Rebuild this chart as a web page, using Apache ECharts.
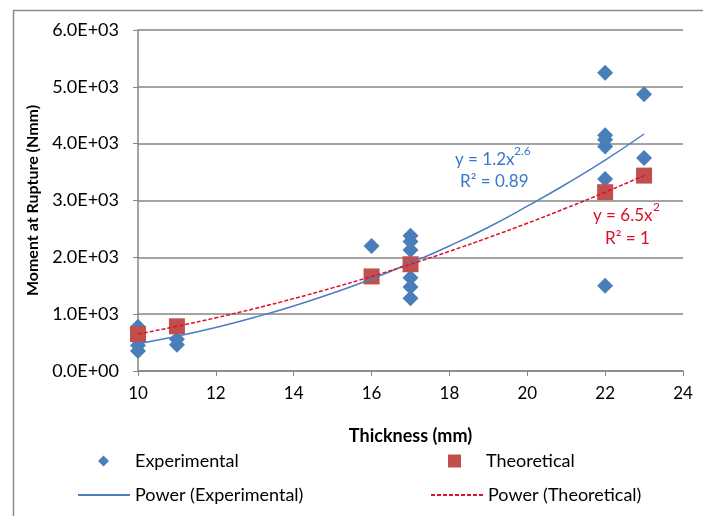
<!DOCTYPE html>
<html>
<head>
<meta charset="utf-8">
<script src="https://cdn.jsdelivr.net/npm/echarts@6/dist/echarts.min.js"></script>
<style>
  html, body { margin: 0; padding: 0; background: #fff; }
  #chart { width: 703px; height: 516px; }
</style>
</head>
<body>
<div id="chart"></div>
<script>
// measured points
const expX = [10, 10, 10, 10, 10, 11, 11, 16, 17, 17, 17, 17, 17, 17, 17, 22, 22, 22, 22, 22, 22, 23, 23]
const expY = [780, 650, 550, 450, 350, 560, 460, 2200, 2380, 2280, 2130, 1880, 1640, 1480, 1280, 5250, 4150, 4070, 3950, 3380, 1500, 4870, 3750]
const theoX = [10, 11, 16, 17, 22, 23]
const theoY = [650, 786, 1664, 1878, 3146, 3438]

// trend lines at whole mm
const fitX = [10, 11, 12, 13, 14, 15, 16, 17, 18, 19, 20, 21, 22, 23]
const fitExpY = [480, 610, 765, 945, 1145, 1370, 1620, 1900, 2200, 2530, 2900, 3290, 3710, 4170]
const fitTheoY = [650, 787, 936, 1099, 1274, 1463, 1664, 1879, 2106, 2347, 2600, 2867, 3146, 3439]

const xTicks = [10, 12, 14, 16, 18, 20, 22, 24]
const yTicks = ['0.0E+00', '1.0E+03', '2.0E+03', '3.0E+03', '4.0E+03', '5.0E+03', '6.0E+03']

const zip = (a, b) => a.map((v, i) => [v, b[i]])

let chart = echarts.init(document.getElementById('chart'))
const font = 'Lato, "Open Sans", sans-serif'
const legendText = { fontFamily: font, fontSize: 18, color: '#000' }
let option = {
  animation: false,
  textStyle: { fontFamily: font },
  grid: { left: 138, right: 20, top: 30, bottom: 145 },
  xAxis: {
    type: 'value',
    min: 10, max: 24, interval: 2,
    name: 'Thickness (mm)',
    nameLocation: 'middle',
    nameGap: 56,
    nameTextStyle: { fontFamily: font, fontWeight: 'bold', fontSize: 18, color: '#000' },
    axisLine: { lineStyle: { color: '#868686', width: 1.5 } },
    axisTick: { show: true, length: 5, lineStyle: { color: '#868686' } },
    axisLabel: { color: '#000', fontSize: 17, margin: 14, formatter: v => xTicks.indexOf(v) >= 0 ? String(v) : '' },
    splitLine: { show: false }
  },
  yAxis: {
    type: 'value',
    min: 0, max: 6000, interval: 1000,
    name: 'Moment at Rupture (Nmm)',
    nameLocation: 'middle',
    nameGap: 97,
    nameTextStyle: { fontFamily: font, fontWeight: 'bold', fontSize: 16, color: '#000' },
    axisLine: { show: true, lineStyle: { color: '#868686', width: 1.5 } },
    axisTick: { show: true, length: 5, lineStyle: { color: '#868686' } },
    axisLabel: { color: '#000', fontSize: 18, margin: 19, formatter: v => yTicks[Math.round(v / 1000)] },
    splitLine: { lineStyle: { color: '#868686', width: 1.5 } }
  },
  legend: [
    { left: 93, top: 447, icon: 'diamond', itemWidth: 11, itemHeight: 11,
      textStyle: Object.assign({ padding: [0, 0, 0, 21] }, legendText), data: ['Experimental'] },
    { left: 443, top: 447, icon: 'rect', itemWidth: 13, itemHeight: 13,
      textStyle: Object.assign({ padding: [0, 0, 0, 20] }, legendText), data: ['Theoretical'] },
    { left: 72, top: 481, itemWidth: 52, itemHeight: 12,
      textStyle: Object.assign({ padding: [0, 0, 0, 0] }, legendText),
      data: [{ name: 'Power (Experimental)', itemStyle: { opacity: 0 } }] },
    { left: 425, top: 481, itemWidth: 52, itemHeight: 12,
      textStyle: Object.assign({ padding: [0, 0, 0, 0] }, legendText),
      data: [{ name: 'Power (Theoretical)', itemStyle: { opacity: 0 } }] }
  ],
  graphic: [
    { type: 'rect', left: 11, top: 8, shape: { width: 700, height: 520 }, style: { fill: 'none', stroke: '#8c8c8c', lineWidth: 1.5 } },
    { type: 'text', left: 455, top: 151, style: { text: 'y = 1.2x', fill: '#3579c9', font: '17px ' + font } },
    { type: 'text', left: 514, top: 145, style: { text: '2.6', fill: '#3579c9', font: '12px ' + font } },
    { type: 'text', left: 460, top: 173, style: { text: 'R² = 0.89', fill: '#3579c9', font: '17px ' + font } },
    { type: 'text', left: 593, top: 207, style: { text: 'y = 6.5x', fill: '#d9102a', font: '17px ' + font } },
    { type: 'text', left: 653, top: 201, style: { text: '2', fill: '#d9102a', font: '12px ' + font } },
    { type: 'text', left: 605, top: 230, style: { text: 'R² = 1', fill: '#d9102a', font: '17px ' + font } }
  ],
  series: [
    {
      name: 'Power (Experimental)',
      type: 'line',
      data: zip(fitX, fitExpY),
      smooth: true,
      showSymbol: false,
      symbol: 'none',
      lineStyle: { color: '#4a7cc4', width: 1.5 },
      itemStyle: { color: '#4a7cc4' },
      z: 3
    },
    {
      name: 'Power (Theoretical)',
      type: 'line',
      data: zip(fitX, fitTheoY),
      smooth: true,
      showSymbol: false,
      symbol: 'none',
      lineStyle: { color: '#e0102a', width: 1.5, type: [4, 2] },
      itemStyle: { color: '#e0102a' },
      z: 3
    },
    {
      name: 'Theoretical',
      type: 'scatter',
      symbol: 'rect',
      symbolSize: 16,
      data: zip(theoX, theoY),
      itemStyle: { color: '#c0504d', opacity: 1 },
      z: 2
    },
    {
      name: 'Experimental',
      type: 'scatter',
      symbol: 'diamond',
      symbolSize: 16,
      data: zip(expX, expY),
      itemStyle: { color: '#4a7ebb', opacity: 1 },
      z: 1
    }
  ]
}
chart.setOption(option)
</script>
</body>
</html>
